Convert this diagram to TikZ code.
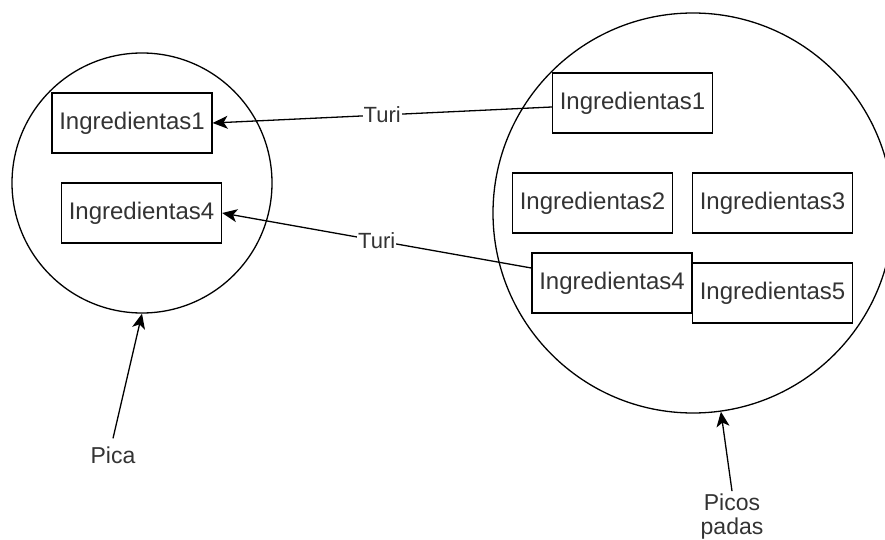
\documentclass[tikz,border=0pt]{standalone}
\usepackage{fontspec}
\setmainfont{Liberation Sans}
\usetikzlibrary{arrows.meta}
\definecolor{txt}{HTML}{333333}
\tikzset{
  ingbox/.style={draw=black, fill=white, line width=1.3pt, minimum width=160pt, minimum height=60pt,
    inner sep=0pt, text=txt, font=\fontsize{24}{28}\selectfont},
  ring/.style={circle, draw=black, line width=1.3pt, inner sep=0pt},
  conn/.style={line width=1.3pt, -{Stealth[length=15pt,width=13pt,inset=4pt]}},
  lbl/.style={fill=white, text=txt, inner sep=1pt, font=\fontsize{22}{26}\selectfont},
  caption/.style={text=txt, align=center, font=\fontsize{23}{24}\selectfont}
}
\begin{document}
\begin{tikzpicture}[x=1pt, y=-1pt]
\useasboundingbox (0,0) rectangle (885,540);
% circles
\node[ring, minimum size=260pt] (LC) at (142,183) {};
\node[ring, minimum size=400pt] (RC) at (693,213) {};
% left boxes
\node[ingbox] (L1) at (132,123) {Ingredientas1};
\node[ingbox] (L4) at (141.5,213) {Ingredientas4};
% right boxes
\node[ingbox] (R1) at (632.5,103) {Ingredientas1};
\node[ingbox] (R2) at (592.5,203) {Ingredientas2};
\node[ingbox] (R3) at (772.5,203) {Ingredientas3};
\node[ingbox] (R5) at (772.5,293) {Ingredientas5};
\node[ingbox] (R4) at (612,283) {Ingredientas4};
% connectors
\draw[conn] ([yshift=-4pt]R1.west) -- node[lbl] {Turi} (L1.east);
\draw[conn] ([yshift=15pt]R4.west) -- node[lbl] {Turi} (L4.east);
% captions
\node[caption, inner sep=8pt] (pica) at (113,455) {Pica};
\node[caption, inner sep=3pt] (picos) at (732,517) {Picos\\padas};
\draw[conn] (pica.north) -- (LC.south);
\draw[conn] (picos.north) -- (RC.-82);
\end{tikzpicture}
\end{document}
